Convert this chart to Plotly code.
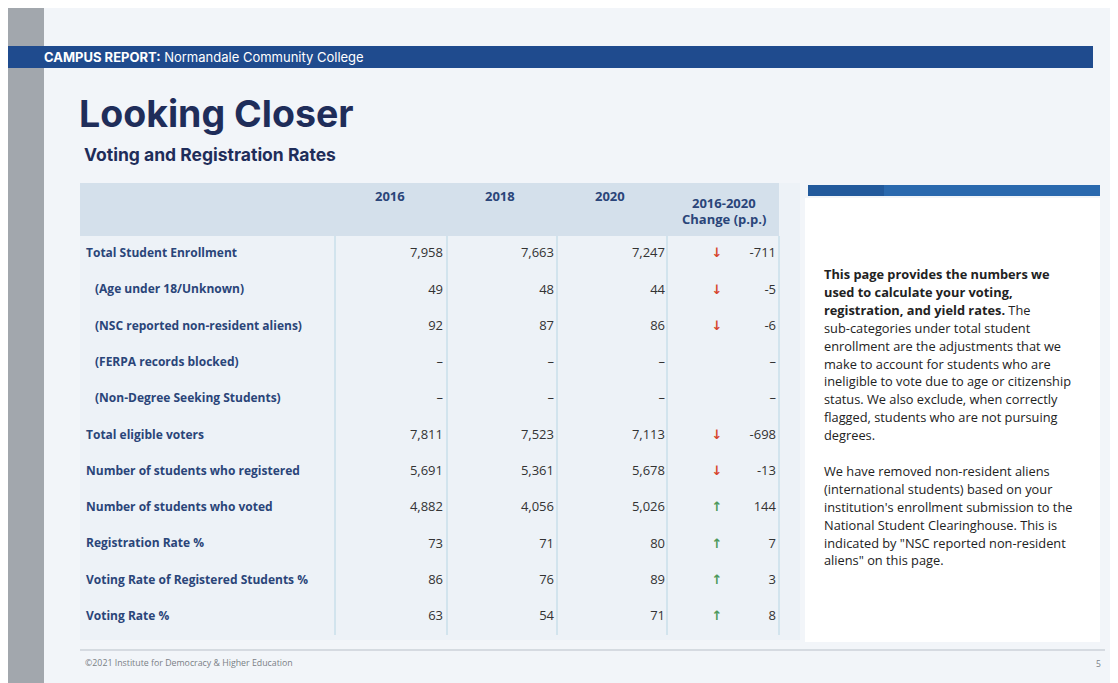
import plotly.graph_objects as go

# ---------------- data ----------------
row_labels = [
    "Total Student Enrollment",
    "(Age under 18/Unknown)",
    "(NSC reported non-resident aliens)",
    "(FERPA records blocked)",
    "(Non-Degree Seeking Students)",
    "Total eligible voters",
    "Number of students who registered",
    "Number of students who voted",
    "Registration Rate %",
    "Voting Rate of Registered Students %",
    "Voting Rate %",
]
sub_row = [False, True, True, True, True, False, False, False, False, False, False]
year_headers = ["2016", "2018", "2020"]
change_header = ["2016-2020", "Change (p.p.)"]
v2016 = [7958, 49, 92, None, None, 7811, 5691, 4882, 73, 86, 63]
v2018 = [7663, 48, 87, None, None, 7523, 5361, 4056, 71, 76, 54]
v2020 = [7247, 44, 86, None, None, 7113, 5678, 5026, 80, 89, 71]
change = [-711, -5, -6, None, None, -698, -13, 144, 7, 3, 8]

banner_bold = "CAMPUS REPORT:"
banner_text = "Normandale Community College"
title = "Looking Closer"
subtitle = "Voting and Registration Rates"
side_lines = [
    "<b>This page provides the numbers we</b>",
    "<b>used to calculate your voting,</b>",
    "<b>registration, and yield rates.</b> The",
    "sub-categories under total student",
    "enrollment are the adjustments that we",
    "make to account for students who are",
    "ineligible to vote due to age or citizenship",
    "status. We also exclude, when correctly",
    "flagged, students who are not pursuing",
    "degrees.",
    "",
    "We have removed non-resident aliens",
    "(international students) based on your",
    "institution's enrollment submission to the",
    "National Student Clearinghouse. This is",
    "indicated by \"NSC reported non-resident",
    "aliens\" on this page.",
]
footer = "\u00a92021 Institute for Democracy & Higher Education"
page_no = "5"

# ---------------- styling ----------------
W, H = 1118, 683
OFF = 8  # default page body margin of the html page
NAVY = "#1f2d5a"
LABEL = "#2a4579"
TXT = "#333333"
RED = "#d6452c"
GREEN = "#4f9a5c"
BODY_TOP, BODY_BOT = 236, 635
FONT = "Open Sans"
HEAD_FONT = "Inter"


def fmt(v):
    return "\u2013" if v is None else f"{v:,}"


fig = go.Figure()

fig.add_trace(go.Scatter(
    x=[95 if s else 86 for s in sub_row], y=row_labels, mode="text",
    text=row_labels, textposition="middle right",
    textfont=dict(family=FONT, size=12, color=LABEL, weight="bold"),
    xaxis="x", yaxis="y2", hoverinfo="skip", showlegend=False))

for xpos, vals in zip([443, 554, 665], [v2016, v2018, v2020]):
    fig.add_trace(go.Scatter(
        x=[xpos] * len(vals), y=row_labels, mode="text",
        text=[fmt(v) for v in vals], textposition="middle left",
        textfont=dict(family=FONT, size=13, color=TXT),
        xaxis="x", yaxis="y2", hoverinfo="skip", showlegend=False))

arrow_txt = ["" if c is None else ("\u2193" if c < 0 else "\u2191") for c in change]
arrow_col = [GREEN if (c is not None and c > 0) else RED for c in change]
fig.add_trace(go.Scatter(
    x=[717] * len(change), y=row_labels, mode="text",
    text=arrow_txt, textposition="middle center",
    textfont=dict(family="DejaVu Sans", size=13, color=arrow_col, weight="bold"),
    xaxis="x", yaxis="y2", hoverinfo="skip", showlegend=False))
fig.add_trace(go.Scatter(
    x=[776] * len(change), y=row_labels, mode="text",
    text=[fmt(c) for c in change], textposition="middle left",
    textfont=dict(family=FONT, size=13, color=TXT),
    xaxis="x", yaxis="y2", hoverinfo="skip", showlegend=False))

shapes = []


def rect(x0, y0, x1, y1, color, layer="below"):
    shapes.append(dict(type="rect", xref="x", yref="y", x0=x0, y0=y0, x1=x1, y1=y1,
                       fillcolor=color, line=dict(width=0), layer=layer))


rect(0, 8, W, H, "#f2f5f9")
rect(5, 8, 44, H, "#a2a7ad")
rect(5, 46, 1093, 68, "#1f4b8e")
rect(80, 183, 800, 640, "#edf2f7")
rect(80, 183, 779, 236, "#d4e0eb")
rect(805, 198, 1100, 642, "#ffffff")
rect(808, 185, 1100, 196, "#2a69ae")
rect(808, 185, 884, 196, "#225a9c")
for xs in [335, 447, 557, 667, 779]:
    shapes.append(dict(type="line", xref="x", yref="y", x0=xs, x1=xs, y0=BODY_TOP, y1=BODY_BOT,
                       line=dict(color="#b7d6e4", width=1), layer="below"))
shapes.append(dict(type="line", xref="x", yref="y", x0=80, x1=1105, y0=650, y1=650,
                   line=dict(color="#b9c0c9", width=1), layer="below"))

ann = []


def text(x, y, t, size, color, family=FONT, xanchor="left", weight="normal"):
    ann.append(dict(x=x, y=y, xref="x", yref="y", text=t, showarrow=False,
                    xanchor=xanchor, yanchor="middle",
                    font=dict(family=family, size=size, color=color, weight=weight)))


text(42, 57, f"<b>{banner_bold}</b> {banner_text}", 13, "#ffffff", family=HEAD_FONT)
text(77, 113, title, 37.5, NAVY, family=HEAD_FONT, weight="bold")
text(82, 154, subtitle, 17.5, NAVY, family=HEAD_FONT, weight="bold")
for xc, hdr in zip([390, 500, 610], year_headers):
    text(xc, 196, hdr, 13, LABEL, xanchor="center", weight="bold")
text(724, 203, change_header[0], 13, LABEL, xanchor="center", weight="bold")
text(724, 219, change_header[1], 13, LABEL, xanchor="center", weight="bold")
for i, line in enumerate(side_lines):
    if line:
        text(822, 274 + 17.9 * i, line, 12.8, "#222222")
text(83, 663, footer, 8.8, "#7a7f86")
text(1098, 663, page_no, 8.5, "#7a7f86", xanchor="center")

fig.update_layout(
    width=W - OFF, height=H - OFF, margin=dict(l=0, r=0, t=0, b=0),
    paper_bgcolor="#ffffff", plot_bgcolor="rgba(0,0,0,0)",
    shapes=shapes, annotations=ann, showlegend=False,
    xaxis=dict(domain=[0, 1], range=[OFF, W], visible=False, fixedrange=True),
    yaxis=dict(domain=[0, 1], range=[H, OFF], visible=False, fixedrange=True),
    yaxis2=dict(domain=[1 - (BODY_BOT - OFF) / (H - OFF), 1 - (BODY_TOP - OFF) / (H - OFF)],
                anchor="x", type="category", categoryarray=row_labels, categoryorder="array",
                range=[len(row_labels) - 0.5, -0.5], visible=False, fixedrange=True),
)
fig.write_html("out.html", config={"displayModeBar": False})
